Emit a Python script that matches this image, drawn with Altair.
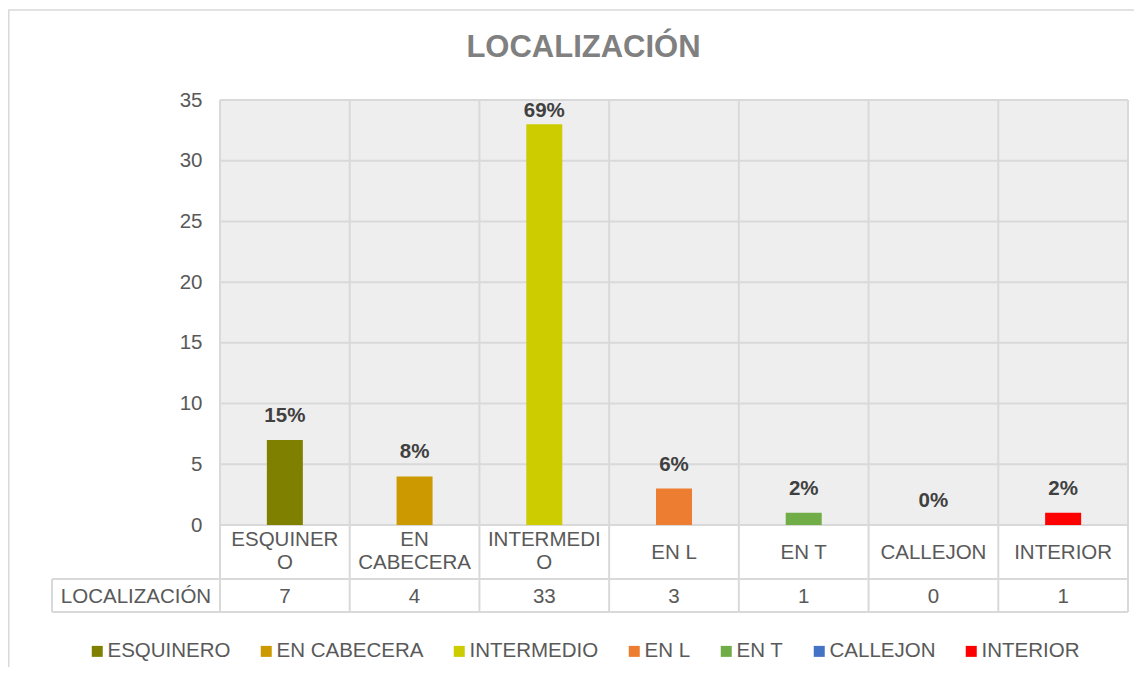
import altair as alt
import pandas as pd

# ---------------- data ----------------
categories = ["ESQUINERO", "EN CABECERA", "INTERMEDIO", "EN L", "EN T", "CALLEJON", "INTERIOR"]
values = [7, 4, 33, 3, 1, 0, 1]
pct_labels = ["15%", "8%", "69%", "6%", "2%", "0%", "2%"]
table_labels = ["ESQUINER\nO", "EN\nCABECERA", "INTERMEDI\nO", "EN L", "EN T", "CALLEJON", "INTERIOR"]
bar_colors = ["#808000", "#CC9900", "#CCCC00", "#ED7D31", "#70AD47", "#4472C4", "#FF0000"]
y_ticks = [0, 5, 10, 15, 20, 25, 30, 35]
series_name = "LOCALIZACIÓN"
chart_title = "LOCALIZACIÓN"

# ---------------- layout / style ----------------
W, H = 908, 425
FONT = "Liberation Sans"
GRID = "#d9d9d9"
TXT = "#595959"
FS = 20.5
YMAX = 35
PX = YMAX / H  # data units per pixel

df = pd.DataFrame({"cat": categories, "value": values, "pct": pct_labels, "label": table_labels})
ticks_df = pd.DataFrame({"tick": y_ticks})
one = alt.Data(values=[{"k": 1}])

x_scale = alt.Scale(domain=categories, paddingInner=0, paddingOuter=0)
y_scale = alt.Scale(domain=[0, YMAX], nice=False, zero=True)
y_axis = alt.Axis(values=y_ticks, grid=False, domain=False, ticks=False, tickSize=0,
                  labelPadding=18, labelFontSize=FS, labelColor=TXT, labelFont=FONT,
                  title=None)
x_enc = alt.X("cat:N", sort=categories, scale=x_scale, axis=None)

border = alt.Chart(one).mark_rect(fill=None, stroke=GRID, strokeWidth=1.5).encode(
    x=alt.value(-211.2), x2=alt.value(W + 200), y=alt.value(-90), y2=alt.value(H + 400))

bg = alt.Chart(one).mark_rect(fill="#eeeeee").encode(
    x=alt.value(0), x2=alt.value(W), y=alt.value(0), y2=alt.value(H))

hgrid = alt.Chart(ticks_df).mark_rule(color=GRID, strokeWidth=2).encode(
    y=alt.Y("tick:Q", scale=y_scale, axis=y_axis), x=alt.value(0), x2=alt.value(W))

vgrid = alt.Chart(df).mark_rule(color=GRID, strokeWidth=2).encode(
    x=alt.X("cat:N", sort=categories, scale=x_scale, bandPosition=0, axis=None),
    y=alt.value(0), y2=alt.value(512))

right_edge = alt.Chart(one).mark_rule(color=GRID, strokeWidth=2).encode(
    x=alt.value(W), y=alt.value(0), y2=alt.value(512))

tbl_h1 = alt.Chart(one).mark_rule(color=GRID, strokeWidth=2).encode(
    x=alt.value(-168), x2=alt.value(W), y=alt.value(479))
tbl_h2 = alt.Chart(one).mark_rule(color=GRID, strokeWidth=2).encode(
    x=alt.value(-168), x2=alt.value(W), y=alt.value(512))
tbl_v = alt.Chart(one).mark_rule(color=GRID, strokeWidth=2).encode(
    x=alt.value(-168), y=alt.value(479), y2=alt.value(512))

bars = alt.Chart(df).mark_bar(width=36).encode(
    x=x_enc,
    y=alt.Y("value:Q", scale=y_scale, axis=y_axis),
    color=alt.Color("cat:N", sort=categories,
                    scale=alt.Scale(domain=categories, range=bar_colors),
                    legend=alt.Legend(orient="none", legendX=-133, legendY=541,
                                      direction="horizontal", symbolType="square",
                                      symbolSize=121, symbolStrokeWidth=0,
                                      labelFontSize=FS, labelColor=TXT, labelFont=FONT,
                                      labelOffset=0, columnPadding=25, padding=0,
                                      labelLimit=0, title=None)),
)

# data labels: 18px above the bar, kept inside the plot area (as Excel does)
pct_text = alt.Chart(df).transform_calculate(
    ly=f"min(datum.value + {18 * PX}, {YMAX - 17 * PX})"
).mark_text(font=FONT, fontSize=FS, fontWeight="bold", color="#404040",
            baseline="alphabetic").encode(
    x=x_enc,
    y=alt.Y("ly:Q", scale=y_scale, axis=y_axis),
    text="pct:N")

cat_text_multi = alt.Chart(df).transform_filter(
    "indexof(datum.label, '\\n') >= 0"
).mark_text(font=FONT, fontSize=FS, color=TXT, baseline="middle",
            lineBreak="\n", lineHeight=23).encode(
    x=x_enc, y=alt.value(440), text="label:N")

cat_text_single = alt.Chart(df).transform_filter(
    "indexof(datum.label, '\\n') < 0"
).mark_text(font=FONT, fontSize=FS, color=TXT, baseline="middle").encode(
    x=x_enc, y=alt.value(453), text="label:N")

val_text = alt.Chart(df).mark_text(font=FONT, fontSize=FS, color=TXT, baseline="middle").encode(
    x=x_enc, y=alt.value(497), text="value:Q")

series_text = alt.Chart(alt.Data(values=[{"t": series_name}])).mark_text(
    font=FONT, fontSize=FS, color=TXT, baseline="middle").encode(
    x=alt.value(-84), y=alt.value(497), text="t:N")

title_text = alt.Chart(alt.Data(values=[{"t": chart_title}])).mark_text(
    font=FONT, fontSize=31, fontWeight="bold", color="#808080", baseline="alphabetic").encode(
    x=alt.value(363.5), y=alt.value(-43), text="t:N")

chart = alt.layer(
    border, bg, hgrid, vgrid, right_edge, tbl_h1, tbl_h2, tbl_v,
    bars, pct_text, cat_text_multi, cat_text_single, val_text, series_text, title_text
).properties(
    width=W, height=H,
    autosize=alt.AutoSizeParams(type="none"),
    padding={"left": 212, "top": 92, "right": 6, "bottom": 142},
).configure_view(stroke=None).configure(font=FONT)

chart.save("out.html", embed_options={"renderer": "svg", "actions": False})
